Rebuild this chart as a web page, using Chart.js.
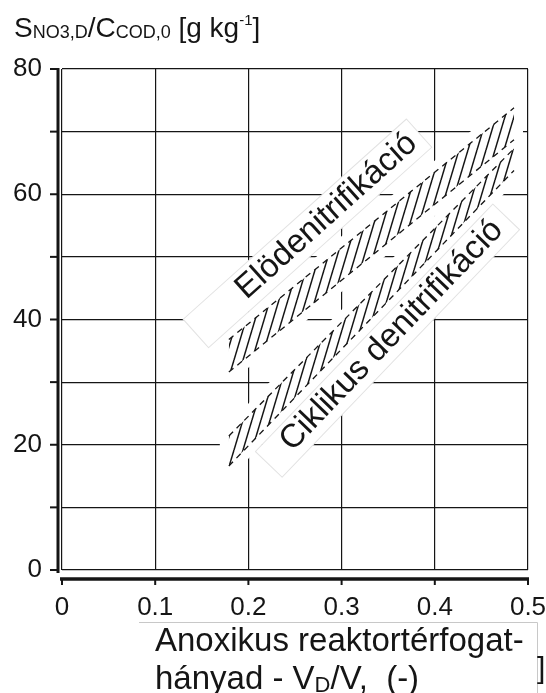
<!DOCTYPE html>
<html>
<head>
<meta charset="utf-8">
<script src="https://cdn.jsdelivr.net/npm/chart.js@4.4.0/dist/chart.umd.min.js"></script>
<style>
  body { margin: 0; background: #fff; }
  #wrap { width: 546px; height: 693px; position: relative; }
</style>
</head>
<body>
<div id="wrap"><canvas id="chart"></canvas></div>
<script>
// axis ranges
const xMin = 0, xMax = 0.5, xStep = 0.1;
const yMin = 0, yMax = 80, yStep = 10;

// hatched bands, edges (x = V_D/V, y = g/kg)
const bandX = [0.179, 0.485];
const eloLow = [31.6, 68.7];
const eloHigh = [36.8, 73.8];
const cikLow = [16.6, 63.8];
const cikHigh = [21.4, 67.3];

// band labels, anchored at the start of the text baseline
const bandLabels = ['Elödenitrifikáció', 'Ciklikus denitrifikáció'];
const labelX = [0.198, 0.247];
const labelY = [43.1, 18.8];

const FONT = '"Liberation Sans", Arial, sans-serif';
const INK = '#151515';

const canvas = document.getElementById('chart');
const ctx0 = canvas.getContext('2d');

// italic stroke hatch like the scanned bands
function makeHatch() {
  const c = document.createElement('canvas');
  c.width = 9; c.height = 30;
  const g = c.getContext('2d');
  g.strokeStyle = INK;
  g.lineWidth = 1.5;
  for (const dx of [-9, 0, 9]) {
    g.beginPath();
    g.moveTo(dx, 30);
    g.lineTo(dx + 9, 0);
    g.stroke();
  }
  return ctx0.createPattern(c, 'repeat');
}
const hatch = makeHatch();

function pts(ys) {
  return bandX.map((x, i) => ({ x: x, y: ys[i] }));
}

function edge(ys, fill) {
  return {
    data: pts(ys),
    borderColor: INK,
    borderWidth: 1.3,
    borderDash: [6, 5],
    pointRadius: 0,
    tension: 0,
    fill: fill,
    backgroundColor: hatch
  };
}

function runs(ctx, x, y, parts) {
  parts.forEach(([t, size, dy]) => {
    ctx.font = size + 'px ' + FONT;
    ctx.fillText(t, x, y + dy);
    x += ctx.measureText(t).width;
  });
}

const labelAngles = [-41.9, -46.2];
const labelBoxes = [[-60, 240, -28, 10], [-25, 318, -27, 10]];

const scanDecor = {
  id: 'scanDecor',
  beforeDatasetsDraw(chart) {
    const ctx = chart.ctx;
    const xs = chart.scales.x, ys = chart.scales.y;
    ctx.save();
    // white paper under the bands
    ctx.fillStyle = '#fff';
    ctx.strokeStyle = '#fff';
    ctx.lineWidth = 18;
    ctx.lineJoin = 'round';
    [[0, 1], [2, 3]].forEach(([a, b]) => {
      const lo = chart.getDatasetMeta(a).data;
      const hi = chart.getDatasetMeta(b).data;
      ctx.beginPath();
      lo.forEach((p, i) => i ? ctx.lineTo(p.x, p.y) : ctx.moveTo(p.x, p.y));
      hi.slice().reverse().forEach(p => ctx.lineTo(p.x, p.y));
      ctx.closePath();
      ctx.fill();
      ctx.stroke();
    });
    // pasted label strips
    bandLabels.forEach((t, i) => {
      const [u0, u1, v0, v1] = labelBoxes[i];
      ctx.save();
      ctx.translate(xs.getPixelForValue(labelX[i]), ys.getPixelForValue(labelY[i]));
      ctx.rotate(labelAngles[i] * Math.PI / 180);
      ctx.fillStyle = '#fff';
      ctx.fillRect(u0, v0, u1 - u0, v1 - v0);
      ctx.strokeStyle = '#e2e2e2';
      ctx.lineWidth = 1;
      ctx.strokeRect(u0, v0, u1 - u0, v1 - v0);
      ctx.restore();
    });
    ctx.restore();
  },
  afterDatasetsDraw(chart) {
    const ctx = chart.ctx;
    const xs = chart.scales.x, ys = chart.scales.y;
    ctx.save();
    ctx.fillStyle = INK;
    ctx.font = '33px ' + FONT;
    ctx.textBaseline = 'alphabetic';
    bandLabels.forEach((t, i) => {
      ctx.save();
      ctx.translate(xs.getPixelForValue(labelX[i]), ys.getPixelForValue(labelY[i]));
      ctx.rotate(labelAngles[i] * Math.PI / 180);
      ctx.fillText(t, 0, 0);
      ctx.restore();
    });
    ctx.restore();
  },
  afterDraw(chart) {
    const ctx = chart.ctx;
    const a = chart.chartArea;
    const xs = chart.scales.x, ys = chart.scales.y;
    ctx.save();
    ctx.strokeStyle = INK;
    // thick y axis with outward ticks
    const ax = a.left - 4;
    ctx.lineWidth = 3;
    ctx.beginPath();
    ctx.moveTo(ax, a.top - 1);
    ctx.lineTo(ax, a.bottom + 3);
    ctx.stroke();
    ctx.lineWidth = 2;
    ys.ticks.forEach(t => {
      const y = ys.getPixelForValue(t.value);
      ctx.beginPath();
      ctx.moveTo(ax - 8, y);
      ctx.lineTo(ax, y);
      ctx.stroke();
    });
    // thick x axis below the frame
    const ay = a.bottom + 9;
    ctx.lineWidth = 3.5;
    ctx.beginPath();
    ctx.moveTo(a.left - 2, ay);
    ctx.lineTo(a.right + 1, ay);
    ctx.stroke();
    ctx.lineWidth = 2;
    xs.ticks.forEach(t => {
      const x = xs.getPixelForValue(t.value);
      ctx.beginPath();
      ctx.moveTo(x, ay);
      ctx.lineTo(x, ay + 6);
      ctx.stroke();
    });

    // y axis title
    ctx.fillStyle = INK;
    ctx.textBaseline = 'alphabetic';
    runs(ctx, 14, 37, [['S', 28, 0], ['NO3,D', 18, 1], ['/C', 28, 0], ['COD,0', 18, 1],
      [' [g kg', 28, 0], ['-1', 15, -12], [']', 28, 0]]);

    // x axis title on its pasted strip
    ctx.strokeStyle = '#c8c8c8';
    ctx.lineWidth = 1;
    ctx.beginPath();
    ctx.moveTo(139, 622.5);
    ctx.lineTo(537.5, 622.5);
    ctx.lineTo(537.5, 693);
    ctx.stroke();
    runs(ctx, 155, 651, [['Anoxikus reaktortérfogat-', 33, 0]]);
    runs(ctx, 155, 689, [['hányad - V', 33, 0], ['D', 22, 3], ['/V,  (-)', 33, 0]]);
    ctx.font = '30px ' + FONT;
    ctx.fillText(']', 537, 678);
    ctx.restore();
  }
};

new Chart(canvas, {
  type: 'line',
  data: {
    datasets: [
      edge(eloLow, false),
      edge(eloHigh, '-1'),
      edge(cikLow, false),
      edge(cikHigh, '-1')
    ]
  },
  options: {
    responsive: true,
    maintainAspectRatio: false,
    animation: false,
    layout: { padding: { top: 69, right: 18, bottom: 73, left: 0 } },
    plugins: { legend: { display: false }, tooltip: { enabled: false } },
    scales: {
      x: {
        type: 'linear',
        min: xMin, max: xMax,
        afterFit: s => { s.height = 50; s.paddingLeft = 0; s.paddingRight = 0; },
        border: { display: false },
        grid: { color: INK, lineWidth: 1.2, drawTicks: false },
        ticks: {
          stepSize: xStep,
          padding: 22,
          color: INK,
          maxRotation: 0,
          autoSkip: false,
          font: { family: FONT, size: 26 },
          callback: v => v === 0 ? '0' : v.toFixed(1)
        }
      },
      y: {
        min: yMin, max: yMax,
        afterFit: s => { s.width = 62; s.paddingTop = 0; s.paddingBottom = 0; },
        border: { display: false },
        grid: { color: INK, lineWidth: 1.2, drawTicks: false },
        ticks: {
          stepSize: yStep,
          padding: 20,
          color: INK,
          font: { family: FONT, size: 26 },
          callback: v => v % 20 === 0 ? String(v) : ''
        }
      }
    }
  },
  plugins: [scanDecor]
});
</script>
</body>
</html>
